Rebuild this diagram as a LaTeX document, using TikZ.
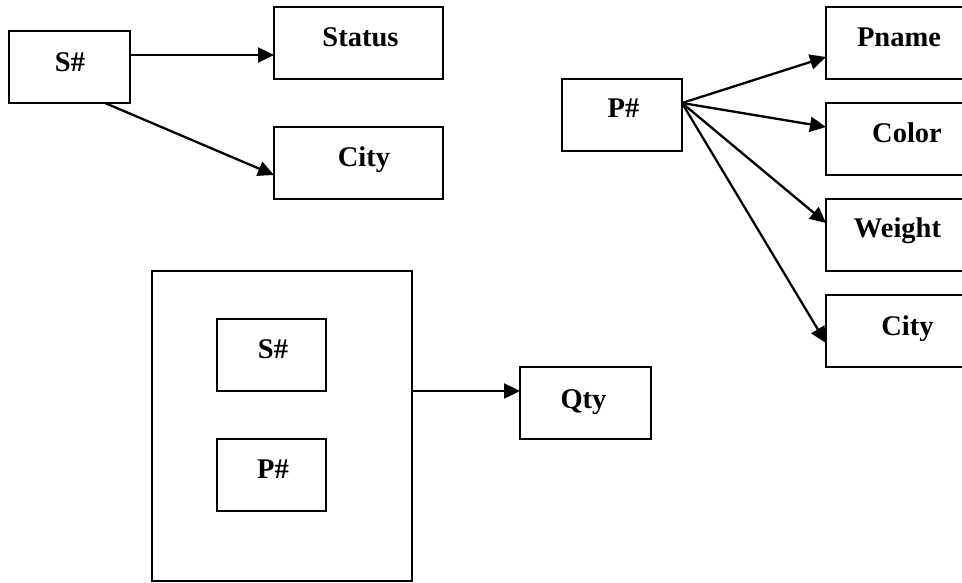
\documentclass[tikz,border=0pt]{standalone}
\usepackage{fontspec}
\setmainfont{Liberation Serif}
\usetikzlibrary{arrows.meta,calc}
\begin{document}
\begin{tikzpicture}[x=1pt,y=-1pt,
  box/.style={draw, line width=2pt, inner sep=0pt, outer sep=0pt,
    anchor=north west, minimum height=72pt},
  lbl/.style={anchor=base, inner sep=0pt, font=\fontsize{28.5}{34}\selectfont\bfseries},
  arr/.style={line width=2.3pt, -{Triangle[length=16pt,width=15pt]}}]
\clip (0,0) rectangle (962,583);
\fill[white] (0,0) rectangle (962,583);

% supplier dependencies
\node[box, minimum width=121pt] (s) at (9,31) {};
\node[box, minimum width=169pt] (status) at (274,7) {};
\node[box, minimum width=169pt] (scity) at (274,127) {};
\node[lbl] (ts) at (70,72) {S\#};
\node[lbl] (tstatus) at (360.5,47) {Status};
\node[lbl] (tscity) at (364,167) {City};
\draw[arr] ([yshift=12pt]s.east) -- ([yshift=-12pt]status.west);
\draw[arr] ([xshift=35.5pt]s.south) -- ([yshift=-12pt]scity.west);

% part dependencies
\node[box, minimum width=120pt] (p) at (562,79) {};
\node[box, minimum width=169pt] (pname) at (826,7) {};
\node[box, minimum width=169pt] (color) at (826,103) {};
\node[box, minimum width=169pt] (weight) at (826,199) {};
\node[box, minimum width=169pt] (pcity) at (826,295) {};
\node[lbl] (tp) at (623.5,118) {P\#};
\node[lbl] (tpname) at (899,47) {Pname};
\node[lbl] (tcolor) at (907,143) {Color};
\node[lbl] (tweight) at (897.5,237) {Weight};
\node[lbl] (tpcity) at (907.5,335) {City};
\coordinate (pout) at ([yshift=12pt]p.east);
\draw[arr] (pout) -- ([yshift=-14pt]pname.west);
\draw[arr] (pout) -- ([yshift=12pt]color.west);
\draw[arr] (pout) -- ([yshift=12pt]weight.west);
\draw[arr] (pout) -- ([yshift=-12pt]pcity.west);

% shipment dependency
\node[box, minimum width=260pt, minimum height=310pt] (sp) at (152,271) {};
\node[box, minimum width=109pt] (sps) at (217,319) {};
\node[box, minimum width=109pt] (spp) at (217,439) {};
\node[box, minimum width=131pt] (qty) at (520,367) {};
\node[lbl] (tsps) at (273,358) {S\#};
\node[lbl] (tspp) at (273,478) {P\#};
\node[lbl] (tqty) at (583.5,408) {Qty};
\coordinate (qin) at ([yshift=12pt]qty.west);
\draw[arr] (sp.east |- qin) -- (qin);
\end{tikzpicture}
\end{document}
